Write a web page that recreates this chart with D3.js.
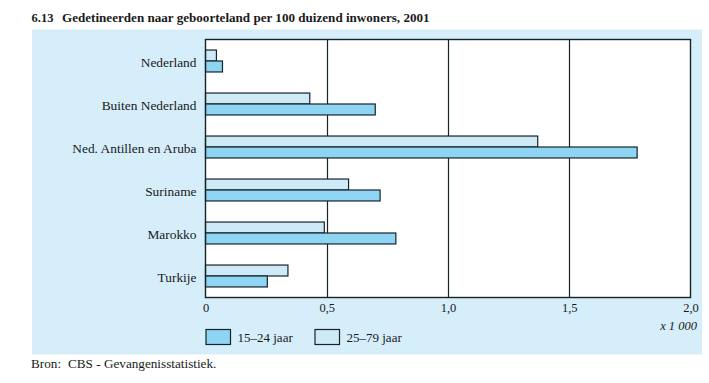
<!DOCTYPE html>
<html>
<head>
<meta charset="utf-8">
<script src="https://cdn.jsdelivr.net/npm/d3@7"></script>
<style>
  html, body { margin: 0; padding: 0; background: #ffffff; }
  svg { display: block; }
  text { font-family: "Liberation Serif", "Times New Roman", serif; fill: #1a1a1a; }
</style>
</head>
<body>
<svg id="chart" width="709" height="383"></svg>
<script>
const categories = ["Nederland", "Buiten Nederland", "Ned. Antillen en Aruba", "Suriname", "Marokko", "Turkije"];
const seriesNames = ["25–79 jaar", "15–24 jaar"];
const values2579 = [0.045, 0.43, 1.37, 0.59, 0.49, 0.34];
const values1524 = [0.07, 0.70, 1.78, 0.72, 0.785, 0.255];
const tickValues = [0, 0.5, 1.0, 1.5, 2.0];
const tickLabels = ["0", "0,5", "1,0", "1,5", "2,0"];
const legendOrder = ["15–24 jaar", "25–79 jaar"];
const titleNumber = "6.13";
const titleText = "Gedetineerden naar geboorteland per 100 duizend inwoners, 2001";
const unitLabel = "x 1 000";
const sourceLabel = "Bron:";
const sourceText = "CBS - Gevangenisstatistiek.";

(function () {
const colors = { "25–79 jaar": "#cfeaf7", "15–24 jaar": "#8ed4f3" };
const stroke = "#16232b";

const svg = d3.select("#chart");

// panel background
svg.append("rect").attr("x", 32).attr("y", 29.5).attr("width", 670).attr("height", 325)
  .attr("fill", "#d5eefa");

// title
svg.append("text").attr("x", 31.5).attr("y", 22).attr("font-weight", "bold").attr("font-size", 12.5)
  .text(titleNumber);
svg.append("text").attr("x", 62).attr("y", 22).attr("font-weight", "bold").attr("font-size", 13.1)
  .text(titleText);

const pL = 205.5, pR = 690.5, pT = 39.5, pB = 297.5;

const x = d3.scaleLinear().domain([0, 2]).range([pL, pR]);
const y = d3.scaleBand().domain(categories).range([pT, pB]).paddingInner(0.49).paddingOuter(0.245);
const ySub = d3.scaleBand().domain(seriesNames).range([0, y.bandwidth()]);

// plot area
svg.append("rect").attr("x", pL).attr("y", pT).attr("width", pR - pL).attr("height", pB - pT)
  .attr("fill", "#ffffff");

// gridlines
svg.append("g").selectAll("line").data(tickValues.slice(1, -1)).join("line")
  .attr("x1", d => Math.round(x(d)) + 0.5).attr("x2", d => Math.round(x(d)) + 0.5)
  .attr("y1", pT).attr("y2", pB)
  .attr("stroke", stroke).attr("stroke-width", 1.2);

// bars
const data = [];
categories.forEach((c, i) => {
  data.push({ cat: c, s: "25–79 jaar", v: values2579[i] });
  data.push({ cat: c, s: "15–24 jaar", v: values1524[i] });
});
svg.append("g").selectAll("rect").data(data).join("rect")
  .attr("x", x(0))
  .attr("y", d => y(d.cat) + ySub(d.s))
  .attr("width", d => x(d.v) - x(0))
  .attr("height", ySub.bandwidth())
  .attr("fill", d => colors[d.s])
  .attr("stroke", stroke).attr("stroke-width", 1.2);

// plot border
svg.append("rect").attr("x", pL).attr("y", pT).attr("width", pR - pL).attr("height", pB - pT)
  .attr("fill", "none").attr("stroke", stroke).attr("stroke-width", 1.4);

// x axis labels
const xAxis = d3.axisBottom(x).tickValues(tickValues).tickFormat((d, i) => tickLabels[i]).tickSize(0).tickPadding(6);
const gx = svg.append("g").attr("transform", `translate(0,${pB})`).call(xAxis);
gx.select(".domain").remove();
gx.selectAll("text").attr("font-family", "Liberation Serif, serif").attr("font-size", 12.5).attr("fill", "#1a1a1a");

svg.append("text").attr("x", 697).attr("y", 329.5).attr("text-anchor", "end")
  .attr("font-style", "italic").attr("font-size", 12.5).text(unitLabel);

// y axis labels
const yAxis = d3.axisLeft(y).tickSize(0).tickPadding(9);
const gy = svg.append("g").attr("transform", `translate(${pL},0)`).call(yAxis);
gy.select(".domain").remove();
gy.selectAll("text").attr("font-family", "Liberation Serif, serif").attr("font-size", 13.4).attr("fill", "#1a1a1a")
  .attr("dy", "0.45em");

// legend
const legendX = [206, 315];
legendOrder.forEach((s, i) => {
  const g = svg.append("g").attr("transform", `translate(${legendX[i]},329.5)`);
  g.append("rect").attr("width", 24.5).attr("height", 15).attr("fill", colors[s])
    .attr("stroke", stroke).attr("stroke-width", 1.2);
  g.append("text").attr("x", 31.5).attr("y", 12).attr("font-size", 13).text(s);
});

// source
svg.append("text").attr("x", 31).attr("y", 368).attr("font-size", 13.2).text(sourceLabel);
svg.append("text").attr("x", 68).attr("y", 368).attr("font-size", 13.2).text(sourceText);
})();
</script>
</body>
</html>
